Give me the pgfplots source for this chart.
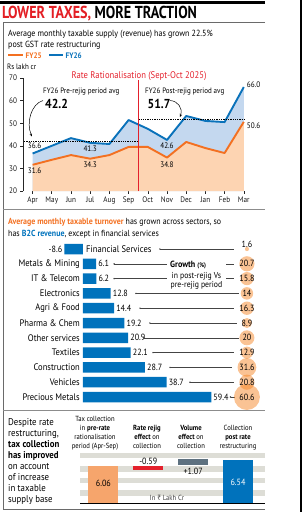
\documentclass[border=0pt]{standalone}
\usepackage{fontspec}
\setmainfont{PT Sans}[FakeStretch=0.9]
\newfontfamily\rupeefont{Noto Sans}[FakeStretch=0.9]
\usepackage{graphicx}
\usepackage{pgfplots}
\pgfplotsset{compat=1.18}
\usetikzlibrary{arrows.meta}
\definecolor{titlered}{HTML}{E31E24}
\definecolor{orangeLine}{HTML}{F37021}
\definecolor{blueLine}{HTML}{0A72BA}
\definecolor{peach}{HTML}{FDD4B2}
\definecolor{lightblue}{HTML}{C4D8EF}
\definecolor{barblue}{HTML}{0072BC}
\definecolor{bubble}{HTML}{F58220}
\definecolor{wfOrange}{HTML}{F6A56C}
\definecolor{wfRed}{HTML}{E4202C}
\definecolor{wfGray}{HTML}{5E7180}
\definecolor{stripe}{HTML}{DDDDD6}
\definecolor{sepgray}{HTML}{8C8C8C}
\definecolor{boxgray}{HTML}{6A6A6A}
\definecolor{leader}{HTML}{444444}
\newcommand{\fs}[1]{\fontsize{#1}{#1}\selectfont}
\newcommand{\leaderline}[3]{\draw[leader, line width=0.45pt] (axis cs:#2,#1) -- (axis cs:#3,#1); \fill[leader] (axis cs:#2,#1) circle[radius=0.8pt];}
\newcommand{\catlabel}[2]{\node[anchor=east, font=\fs{9.5}, inner sep=0] at (axis cs:-1.4,#1) {#2};}
\pgfplotsset{bubblestyle/.style={only marks, mark=*, mark options={draw=bubble, draw opacity=0, fill=bubble, fill opacity=0.48}}}

\pgfplotstableread{
m  fy25  fy26
0  31.6  36.6
1  33.8  40.0
2  35.9  43.4
3  34.3  41.3
4  35.9  40.8
5  39.5  51.4
6  39.5  47.5
7  34.8  42.6
8  41.7  53.2
9  39.0  51.0
10 36.8  50.5
11 50.6  66.0
}\supply

\begin{document}
\begin{tikzpicture}[x=1pt,y=1pt]
\useasboundingbox (0,0) rectangle (303,-512);
% frame
\fill[black] (0,-1) rectangle (265,-3.5);
\fill[black] (299.5,0) rectangle (302,-512);
\draw[boxgray, line width=0.8pt] (265,-22) -- (3,-22) -- (3,-509) -- (265,-509);

% title
\node[anchor=base west, inner sep=0] at (2,-18.5) {\scalebox{0.95}[1.05]{\fs{16.5}\bfseries\color{titlered}LOWER TAXES, \color{black}MORE TRACTION}};

% subtitle
\node[anchor=base west, inner sep=0] at (8,-36) {\fs{8.9}Average monthly taxable supply (revenue) has grown 22.5\%};
\node[anchor=base west, inner sep=0] at (8,-47.5) {\fs{8.9}post GST rate restructuring};
% legend
\draw[orangeLine, line width=1.5pt] (8,-55) -- (23,-55);
\node[anchor=base west, inner sep=0] at (25.5,-58) {\fs{8}\bfseries\color{orangeLine}FY25};
\draw[blueLine, line width=1.5pt] (49,-55) -- (63,-55);
\node[anchor=base west, inner sep=0] at (65.5,-58) {\fs{8}\bfseries\color{blueLine}FY26};
\node[anchor=base west, inner sep=0] at (7,-69.5) {\fs{7.8}Rs lakh cr};

% ---------- line / area chart ----------
\begin{axis}[
  at={(23pt,-191pt)}, anchor=south west,
  scale only axis, width=230.4pt, height=113pt,
  xmin=-0.5, xmax=11.5, ymin=20, ymax=70,
  axis x line*=bottom, axis y line*=left,
  axis line style={-},
  x axis line style={draw=none},
  y axis line style={black!85, line width=0.7pt},
  xtick={0,...,11},
  xticklabels={Apr,May,Jun,Jul,Aug,Sep,Oct,Nov,Dec,Jan,Feb,Mar},
  ytick={20,30,...,70},
  tick align=outside, major tick length=2.5pt,
  tick style={black!85, line width=0.6pt},
  tick label style={font=\fs{8}, text=black!90},
  xticklabel style={yshift=0.5pt},
  /pgf/number format/assume math mode=true,
  clip=false,
]
\addplot[fill=lightblue, draw=none] table[x=m, y=fy26] {
m fy26
0 20
0 36.6
1 40.0
2 43.4
3 41.3
4 40.8
5 51.4
6 47.5
7 42.6
8 53.2
9 51.0
10 50.5
11 66.0
11 20
} -- cycle;
\addplot[fill=peach, draw=none] table[x=m, y=fy25] {
m fy25
0 20
0 31.6
1 33.8
2 35.9
3 34.3
4 35.9
5 39.5
6 39.5
7 34.8
8 41.7
9 39.0
10 36.8
11 50.6
11 20
} -- cycle;
\addplot[orangeLine, line width=1.9pt, mark=none, line join=round] table[x=m, y=fy25] {\supply};
\addplot[blueLine, line width=1.9pt, mark=none, line join=round] table[x=m, y=fy26] {\supply};
\draw[black, line width=0.5pt, dash pattern=on 1.3pt off 1pt] (axis cs:-0.45,42.2) -- (axis cs:5.5,42.2);
\draw[black, line width=0.5pt, dash pattern=on 1.3pt off 1pt] (axis cs:5.5,51.7) -- (axis cs:11.05,51.7);
\draw[wfRed, line width=0.8pt] (axis cs:5.5,20) -- (axis cs:5.5,69.3);
\node[font=\fs{8}] at (axis cs:0.1,39.9) {36.6};
\node[font=\fs{8}] at (axis cs:0.1,28.8) {31.6};
\node[font=\fs{8}] at (axis cs:3,38.9) {41.3};
\node[font=\fs{8}] at (axis cs:3,31.6) {34.3};
\node[font=\fs{8}] at (axis cs:7,39.9) {42.6};
\node[font=\fs{8}] at (axis cs:7,31.5) {34.8};
\node[font=\fs{8}, anchor=west, inner sep=1pt] at (axis cs:11.1,67.0) {66.0};
\node[font=\fs{8}, anchor=west, inner sep=1pt] at (axis cs:11.1,48.8) {50.6};
\end{axis}

\node[anchor=base, inner sep=0] at (139,-78.5) {\fs{9.6}\color{wfRed}Rate Rationalisation (Sept-Oct 2025)};
\node[anchor=base west, inner sep=0] at (43,-93.8) {\fs{7.8}FY26 Pre-rejig period avg};
\node[anchor=base west, inner sep=0] at (45,-108) {\fs{13}\bfseries 42.2};
\node[anchor=base west, inner sep=0] at (145,-93.8) {\fs{7.8}FY26 Post-rejig period avg};
\node[anchor=base west, inner sep=0] at (147.5,-108) {\fs{13}\bfseries 51.7};
\draw[black, line width=0.5pt, -{Stealth[length=3pt,width=2.5pt]}] (43,-100.5) .. controls (31,-104) and (26,-123) .. (32,-136.5);
\draw[black, line width=0.5pt, -{Stealth[length=3pt,width=2.5pt]}] (170,-100.5) .. controls (178,-101) and (183,-108) .. (180,-117);

\draw[sepgray, line width=1.6pt] (3,-209.5) -- (265,-209.5);

% ---------- section 2 ----------
\node[anchor=base west, inner sep=0] at (8,-224.5) {\fs{8.8}\textcolor{orangeLine}{\bfseries Average monthly taxable turnover} has grown across sectors, so};
\node[anchor=base west, inner sep=0] at (8,-236) {\fs{8.8}has \textcolor{barblue}{\bfseries B2C revenue}, except in financial services};

\begin{axis}[
  at={(61.4pt,-404.4pt)}, anchor=south west,
  scale only axis, width=205.2pt, height=162.8pt,
  xmin=-10, xmax=85, ymin=-0.5, ymax=10.5, y dir=reverse,
  hide axis, clip=false,
  /pgf/number format/assume math mode=true,
]
% leader lines
\leaderline{0}{35.6}{69.8}
\leaderline{1}{14.4}{70.0}
\leaderline{2}{14.4}{70.0}
\leaderline{3}{24.5}{72.0}
\leaderline{4}{26.4}{69.8}
\leaderline{5}{31.0}{71.3}
\leaderline{6}{28.2}{72.0}
\leaderline{7}{32.4}{69.8}
\leaderline{8}{40.3}{69.0}
\leaderline{9}{49.5}{69.8}
\leaderline{10}{68.3}{70.6}
\node[fill=white, inner sep=0, minimum width=59pt, minimum height=30pt] at (axis cs:52.4,1.55) {};
\node[anchor=base west, inner sep=0] at (axis cs:40.3,1.25) {\fs{9}\bfseries Growth {\fs{6.5}(\%)}};
\node[anchor=base, inner sep=0] at (axis cs:52.5,2.0) {\fs{8.6}in post-rejig Vs};
\node[anchor=base, inner sep=0] at (axis cs:52.5,2.62) {\fs{8.6}pre-rejig period};
% bubbles: radius = 1.67*sqrt(growth)
\addplot[bubblestyle, mark size=2.1] coordinates {(75.9,0)};
\addplot[bubblestyle, mark size=7.6] coordinates {(75.9,1)};
\addplot[bubblestyle, mark size=6.6] coordinates {(75.9,2)};
\addplot[bubblestyle, mark size=6.25] coordinates {(75.9,3)};
\addplot[bubblestyle, mark size=6.7] coordinates {(75.9,4)};
\addplot[bubblestyle, mark size=5.0] coordinates {(75.9,5)};
\addplot[bubblestyle, mark size=7.5] coordinates {(75.9,6)};
\addplot[bubblestyle, mark size=6.0] coordinates {(75.9,7)};
\addplot[bubblestyle, mark size=9.4] coordinates {(75.9,8)};
\addplot[bubblestyle, mark size=7.6] coordinates {(75.9,9)};
\addplot[bubblestyle, mark size=13.0] coordinates {(75.9,10)};
\addplot[only marks, mark=*, mark size=0pt, mark options={draw opacity=0, fill opacity=0},
  point meta=explicit symbolic, nodes near coords,
  every node near coord/.append style={anchor=center, font=\fs{9}, text=black, inner sep=0, opacity=1, text opacity=1, fill opacity=1, draw opacity=1}]
  coordinates {(75.9,-0.3)[1.6] (75.9,1)[20.7] (75.9,2)[15.8] (75.9,3)[14] (75.9,4)[16.3] (75.9,5)[8.9] (75.9,6)[20] (75.9,7)[12.9] (75.9,8)[31.6] (75.9,9)[20.8] (75.9,10)[60.6]};
% bars
\addplot[xbar, bar width=10.5pt, fill=barblue, draw=none, point meta=x,
  nodes near coords, nodes near coords align=horizontal,
  every node near coord/.append style={font=\fs{9}, text=black, inner sep=2pt}]
  coordinates {(-8.6,0) (6.1,1) (6.2,2) (12.8,3) (14.4,4) (19.2,5) (20.9,6) (22.1,7) (28.7,8) (38.7,9) (59.4,10)};
\node[anchor=west, font=\fs{9.5}, inner sep=0] at (axis cs:1.4,0) {Financial Services};
\catlabel{1}{Metals \& Mining}
\catlabel{2}{IT \& Telecom}
\catlabel{3}{Electronics}
\catlabel{4}{Agri \& Food}
\catlabel{5}{Pharma \& Chem}
\catlabel{6}{Other services}
\catlabel{7}{Textiles}
\catlabel{8}{Construction}
\catlabel{9}{Vehicles}
\catlabel{10}{Precious Metals}
\end{axis}

\draw[sepgray, line width=1.6pt] (3,-410.5) -- (265,-410.5);

% ---------- section 3 ----------
\foreach \yb/\txt in {425.5/Despite rate, 436.5/{restructuring,}, 447.5/{\bfseries tax collection}, 458.5/{\bfseries has improved}, 469.5/on account, 480.5/of increase, 491.5/in taxable, 502.5/supply base} {
  \node[anchor=base west, inner sep=0] at (8,-\yb) {\fs{9.8}\txt};
}
% column headers
\node[anchor=base, inner sep=0] at (95,-421.5) {\fs{7.4}Tax collection};
\node[anchor=base, inner sep=0] at (95,-430.5) {\fs{7.4}in \textbf{pre-rate}};
\node[anchor=base, inner sep=0] at (95,-439.5) {\fs{7.4}rationalisation};
\node[anchor=base, inner sep=0] at (95,-448.5) {\fs{7.4}period (Apr-Sep)};
\node[anchor=base, inner sep=0] at (147,-430.5) {\fs{7.4}\textbf{Rate rejig}};
\node[anchor=base, inner sep=0] at (147,-439.5) {\fs{7.4}\textbf{effect} on};
\node[anchor=base, inner sep=0] at (147,-448.5) {\fs{7.4}collection};
\node[anchor=base, inner sep=0] at (191,-430.5) {\fs{7.4}\textbf{Volume}};
\node[anchor=base, inner sep=0] at (191,-439.5) {\fs{7.4}\textbf{effect} on};
\node[anchor=base, inner sep=0] at (191,-448.5) {\fs{7.4}collection};
\node[anchor=base, inner sep=0] at (238,-430.5) {\fs{7.4}Collection};
\node[anchor=base, inner sep=0] at (238,-439.5) {\fs{7.4}\textbf{post rate}};
\node[anchor=base, inner sep=0] at (238,-448.5) {\fs{7.4}restructuring};

\begin{axis}[
  at={(80pt,-503.5pt)}, anchor=south west,
  scale only axis, width=185pt, height=52.9pt,
  xmin=-0.52, xmax=3.6, ymin=3, ymax=7.3,
  hide axis, clip=false,
]
\fill[stripe] (axis cs:-0.52,6.66) rectangle (axis cs:3.6,7.11);
\fill[stripe] (axis cs:-0.52,5.60) rectangle (axis cs:3.6,6.05);
\fill[stripe] (axis cs:-0.52,4.63) rectangle (axis cs:3.6,5.07);
\fill[stripe] (axis cs:-0.52,3.61) rectangle (axis cs:3.6,4.10);
\addplot[fill=wfOrange, draw=none] coordinates {(-0.333,3) (-0.333,6.06) (0.333,6.06) (0.333,3)} -- cycle;
\addplot[fill=wfRed, draw=none] coordinates {(0.667,6.06) (0.667,5.74) (1.333,5.74) (1.333,6.06)} -- cycle;
\addplot[fill=wfGray, draw=none] coordinates {(1.667,6.10) (1.667,6.62) (2.333,6.62) (2.333,6.10)} -- cycle;
\addplot[fill=barblue, draw=none] coordinates {(2.667,3) (2.667,6.54) (3.333,6.54) (3.333,3)} -- cycle;
\draw[black, line width=0.8pt] (axis cs:-0.52,3) -- (axis cs:3.6,3);
\node[font=\fs{9}] at (axis cs:0,4.6) {6.06};
\node[font=\fs{9}, text=white] at (axis cs:3,4.76) {6.54};
\node[font=\fs{9}] at (axis cs:1,6.43) {-0.59};
\node[font=\fs{9}] at (axis cs:2,5.62) {+1.07};
\end{axis}
\node[anchor=base, inner sep=0] at (167,-500.5) {\fs{7.4}\color{black!75}In {\rupeefont ₹} Lakh Cr};
\end{tikzpicture}
\end{document}
